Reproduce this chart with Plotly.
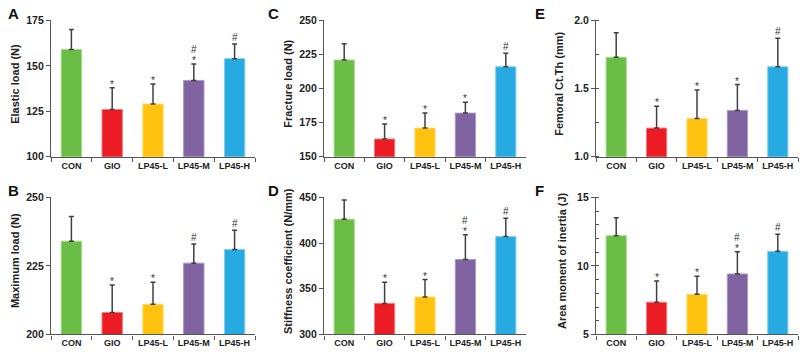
import plotly.graph_objects as go

categories = ["CON", "GIO", "LP45-L", "LP45-M", "LP45-H"]
colors = ["#6abd45", "#ec1c24", "#ffc20e", "#8064a2", "#27aae1"]
edge_colors = ["#a5d98c", "#f47a7f", "#ffdc70", "#ab97c6", "#84cdee"]

elastic_load = [159, 126, 129, 142, 154]
elastic_load_top = [170, 138, 140, 151, 162]
elastic_marks = ["", "*", "*", "*#", "#"]

maximum_load = [234, 208, 211, 226, 231]
maximum_load_top = [243, 218, 219, 233, 238]
maximum_marks = ["", "*", "*", "#", "#"]

fracture_load = [221, 163, 171, 182, 216]
fracture_load_top = [233, 174, 182, 190, 226]
fracture_marks = ["", "*", "*", "*", "#"]

stiffness = [426, 334, 341, 382, 407]
stiffness_top = [447, 357, 360, 409, 427]
stiffness_marks = ["", "*", "*", "*#", "#"]

ct_th = [1.73, 1.21, 1.28, 1.34, 1.66]
ct_th_top = [1.91, 1.37, 1.49, 1.53, 1.87]
ct_th_marks = ["", "*", "*", "*", "#"]

inertia = [12.2, 7.35, 7.93, 9.41, 11.06]
inertia_top = [13.5, 8.9, 9.25, 11.03, 12.3]
inertia_marks = ["", "*", "*", "*#", "#"]

panels = [
    dict(letter="A", title="Elastic load (N)", v=elastic_load, t=elastic_load_top, m=elastic_marks,
         rng=[100, 175], dtick=25, minor=None, fmt="d", x0=51, x1=255, row=0, tx=15, lx=13),
    dict(letter="C", title="Fracture load (N)", v=fracture_load, t=fracture_load_top, m=fracture_marks,
         rng=[150, 250], dtick=25, minor=None, fmt="d", x0=324, x1=526, row=0, tx=288, lx=273),
    dict(letter="E", title="Femoral Ct.Th (mm)", v=ct_th, t=ct_th_top, m=ct_th_marks,
         rng=[1.0, 2.0], dtick=0.5, minor=0.25, fmt=".1f", x0=596, x1=798, row=0, tx=559, lx=540),
    dict(letter="B", title="Maximum load (N)", v=maximum_load, t=maximum_load_top, m=maximum_marks,
         rng=[200, 250], dtick=25, minor=None, fmt="d", x0=51, x1=255, row=1, tx=15, lx=13),
    dict(letter="D", title="Stiffness coefficient (N/mm)", v=stiffness, t=stiffness_top, m=stiffness_marks,
         rng=[300, 450], dtick=50, minor=None, fmt="d", x0=324, x1=526, row=1, tx=288, lx=273),
    dict(letter="F", title="Area moment of inertia (J)", v=inertia, t=inertia_top, m=inertia_marks,
         rng=[5, 15], dtick=5, minor=1, fmt="d", x0=596, x1=798, row=1, tx=562, lx=539),
]

W, H = 800, 354
rows_px = [(15, 156), (198, 340)]
letter_y = [8, 191]
axis_col = "#555555"
text_col = "#222222"
FONT = "Liberation Sans, Arial, sans-serif"

fig = go.Figure()
annotations = []
for i, p in enumerate(panels):
    k = "" if i == 0 else str(i + 1)
    xa, ya = "x" + k, "y" + k
    y0px, y1px = rows_px[p["row"]]
    err = [t - v for t, v in zip(p["t"], p["v"])]
    fig.add_trace(go.Bar(
        x=categories, y=p["v"], xaxis=xa, yaxis=ya, width=0.5,
        marker=dict(color=colors, line=dict(color=edge_colors, width=1)),
        error_y=dict(type="data", array=err, arrayminus=[0] * 5, symmetric=False,
                     color="#404040", thickness=1.5, width=2.5),
        showlegend=False, hoverinfo="skip",
    ))
    yaxis = dict(
        domain=[1 - y1px / H, 1 - y0px / H], range=p["rng"], dtick=p["dtick"],
        tick0=p["rng"][0], tickformat=p["fmt"],
        showline=True, linecolor=axis_col, linewidth=1.2, ticks="outside", ticklen=4,
        tickcolor=axis_col, showgrid=False, zeroline=False, anchor=xa,
        tickfont=dict(family=FONT, size=10.5, color=text_col, weight="bold"),
    )
    if p["minor"]:
        yaxis["minor"] = dict(dtick=p["minor"], ticks="inside", ticklen=3, tickcolor=axis_col,
                              showgrid=False)
    xaxis = dict(
        domain=[p["x0"] / W, p["x1"] / W], range=[-0.5, 4.5], anchor=ya,
        showline=True, linecolor=axis_col, linewidth=1.2, ticks="outside", ticklen=4,
        tickcolor=axis_col, tickson="boundaries", showgrid=False, zeroline=False,
        tickangle=0,
        tickfont=dict(family=FONT, size=9, color=text_col, weight="bold"),
    )
    fig.layout["xaxis" + k] = xaxis
    fig.layout["yaxis" + k] = yaxis

    annotations.append(dict(
        text=p["title"], xref="paper", yref="paper", x=p["tx"] / W,
        y=1 - ((y0px + y1px) / 2 - 5) / H, textangle=-90, showarrow=False,
        xanchor="center", yanchor="middle",
        font=dict(family=FONT, size=11, color=text_col, weight="bold"),
    ))
    annotations.append(dict(
        text=p["letter"], xref="paper", yref="paper", x=p["lx"] / W,
        y=1 - letter_y[p["row"]] / H, showarrow=False, xanchor="center", yanchor="middle",
        font=dict(family=FONT, size=15, color="#111111", weight="bold"),
    ))
    for c, top, mk in zip(categories, p["t"], p["m"]):
        shift = 0
        for ch in mk:
            annotations.append(dict(
                text=ch, x=c, y=top, xref=xa, yref=ya, showarrow=False,
                xanchor="center", yanchor="bottom", yshift=(-4 if ch == "*" else -1) + shift,
                font=dict(family=FONT, size=10, color="#333333"),
            ))
            shift += 8

fig.update_layout(
    width=W, height=H, margin=dict(l=0, r=0, t=0, b=0),
    paper_bgcolor="white", plot_bgcolor="white", annotations=annotations,
)
fig.write_html("out.html")
